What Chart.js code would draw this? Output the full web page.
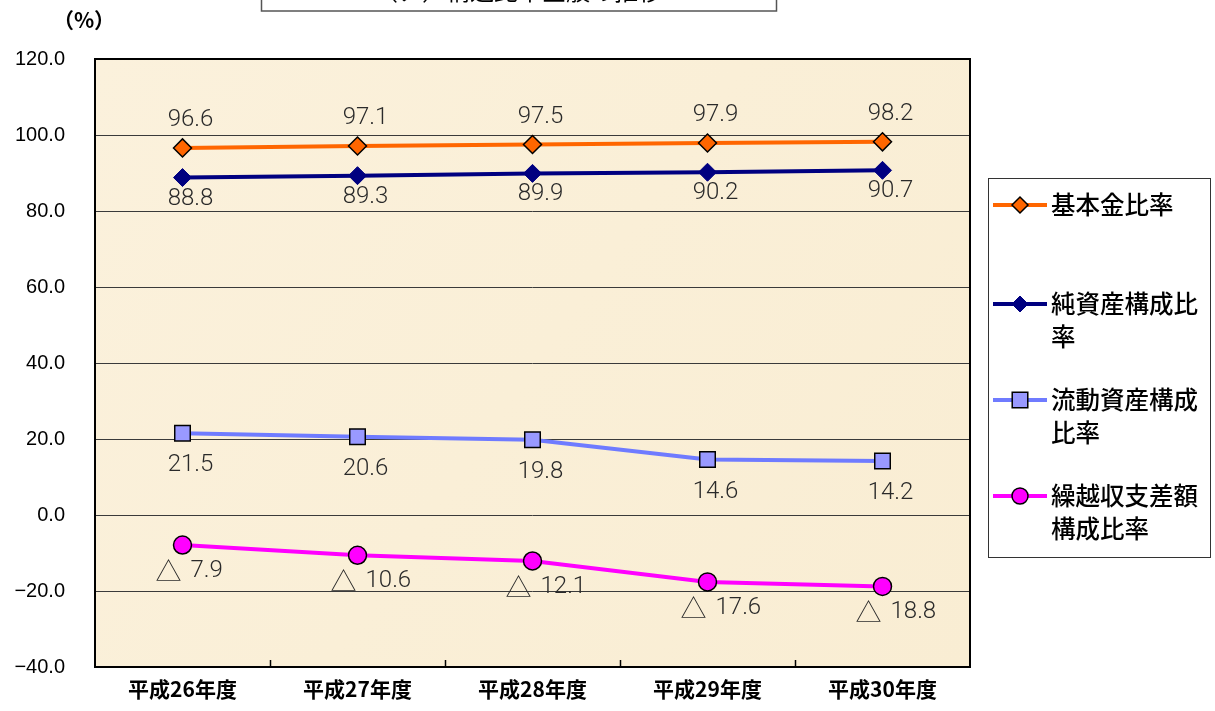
<!DOCTYPE html>
<html><head><meta charset="utf-8">
<script src="https://cdn.jsdelivr.net/npm/chart.js@4.4.1/dist/chart.umd.min.js"></script>
<style>html,body{margin:0;padding:0;background:#fff;}#wrap{width:1215px;height:711px;position:relative;}</style>
</head><body><div id="wrap"><canvas id="c" width="1215" height="711"></canvas></div>
<script>
const categories = ['平成26年度','平成27年度','平成28年度','平成29年度','平成30年度'];
const kihonkin = [96.6, 97.1, 97.5, 97.9, 98.2];
const junshisan = [88.8, 89.3, 89.9, 90.2, 90.7];
const ryudo = [21.5, 20.6, 19.8, 14.6, 14.2];
const kurikoshi = [-7.9, -10.6, -12.1, -17.6, -18.8];
const yTicks = [120, 100, 80, 60, 40, 20, 0, -20, -40];
const seriesNames = [['基本金比率'], ['純資産構成比','率'], ['流動資産構成','比率'], ['繰越収支差額','構成比率']];
const titleText = '（ア）構造比率全般の推移';

const CJK = '"Noto Sans CJK JP", sans-serif';
const NUM = 'Roboto, Lato, "Liberation Sans", sans-serif';

const datasets = [
  {label: seriesNames[0].join(''), data: kihonkin, borderColor:'#FF6600', backgroundColor:'#FF6600', pointStyle:'rectRot', pointRadius:9, pointBorderColor:'#000', pointBorderWidth:1.5, labelPos:'above'},
  {label: seriesNames[1].join(''), data: junshisan, borderColor:'#000080', backgroundColor:'#000080', pointStyle:'rectRot', pointRadius:9, pointBorderColor:'#000080', pointBorderWidth:1, labelPos:'below'},
  {label: seriesNames[2].join(''), data: ryudo, borderColor:'#6F7BFF', backgroundColor:'#9999FF', pointStyle:'rect', pointRadius:11, pointBorderColor:'#000', pointBorderWidth:1.5, labelPos:'below2'},
  {label: seriesNames[3].join(''), data: kurikoshi, borderColor:'#FF00FF', backgroundColor:'#FF00FF', pointStyle:'circle', pointRadius:9, pointBorderColor:'#000', pointBorderWidth:1.5, labelPos:'neg'}
].map(d => Object.assign({borderWidth:4, tension:0, pointHoverRadius:d.pointRadius}, d));

const deco = {
  id:'deco',
  beforeDraw(chart){
    const {ctx, chartArea:a} = chart;
    ctx.save();
    const g = ctx.createLinearGradient(a.left, a.top, a.right, a.bottom);
    g.addColorStop(0, '#FBF1DC'); g.addColorStop(0.5, '#FAEFD7'); g.addColorStop(1, '#F9EDD3');
    ctx.fillStyle = g;
    ctx.fillRect(a.left, a.top, a.right-a.left, a.bottom-a.top);
    ctx.restore();
  },
  afterDraw(chart){
    const {ctx, chartArea:a} = chart;
    const x = chart.scales.x;
    ctx.save();
    ctx.strokeStyle = '#000'; ctx.lineWidth = 2;
    ctx.strokeRect(a.left, a.top, a.right-a.left, a.bottom-a.top);
    ctx.lineWidth = 1.5;
    for (let i=1;i<categories.length;i++){
      const px = Math.round((x.getPixelForValue(i-1)+x.getPixelForValue(i))/2)+0.5;
      ctx.beginPath(); ctx.moveTo(px, a.bottom); ctx.lineTo(px, a.bottom-7); ctx.stroke();
    }
    // unit label
    ctx.fillStyle = '#000'; ctx.font = 'bold 21px ' + CJK;
    ctx.textAlign = 'center'; ctx.textBaseline = 'middle';
    ctx.fillText('（%）', 84, 20);
    // title box (cut at top)
    ctx.fillStyle = '#fff';
    ctx.fillRect(261, -20, 515, 31);
    ctx.strokeStyle = '#555'; ctx.lineWidth = 1.5;
    ctx.strokeRect(261.5, -20, 515, 31);
    ctx.fillStyle = '#000'; ctx.font = '24px ' + CJK;
    ctx.textBaseline = 'alphabetic';
    ctx.fillText(titleText, 518, 0);
    // legend
    const lx = 988, ly = 178, lw = 222, lh = 379;
    ctx.fillStyle = '#fff'; ctx.fillRect(lx, ly, lw, lh);
    ctx.strokeStyle = '#333'; ctx.lineWidth = 1;
    ctx.strokeRect(lx+0.5, ly+0.5, lw, lh);
    const rows = [205, 304, 400, 496];
    datasets.forEach((d, i) => {
      const y = rows[i];
      ctx.strokeStyle = d.borderColor; ctx.lineWidth = 4;
      ctx.beginPath(); ctx.moveTo(993, y); ctx.lineTo(1047, y); ctx.stroke();
      ctx.fillStyle = d.backgroundColor; ctx.strokeStyle = d.pointBorderColor; ctx.lineWidth = d.pointBorderWidth;
      const r = d.pointStyle === 'rect' ? 11 : 8;
      Chart.helpers.drawPoint(ctx, {pointStyle:d.pointStyle, radius:r, borderWidth:d.pointBorderWidth, rotation:0}, 1020, y);
      ctx.fillStyle = '#000'; ctx.font = '500 24.5px ' + CJK;
      ctx.textAlign = 'left'; ctx.textBaseline = 'middle';
      seriesNames[i].forEach((t, k) => ctx.fillText(t, 1051, y + k*33));
    });
    ctx.restore();
  },
  afterDatasetsDraw(chart){
    const {ctx} = chart;
    ctx.save();
    ctx.fillStyle = '#2a2a2a';
    ctx.textBaseline = 'middle';
    const numFont = '300 24px ' + NUM;
    chart.data.datasets.forEach((d, di) => {
      const meta = chart.getDatasetMeta(di);
      meta.data.forEach((p, i) => {
        const v = d.data[i];
        if (d.labelPos === 'neg') {
          const num = Math.abs(v).toFixed(1);
          const y = p.y + 26;
          ctx.font = '300 26px ' + CJK; ctx.textAlign = 'center';
          ctx.fillText('△', p.x - 14, y);
          ctx.font = numFont; ctx.textAlign = 'left';
          ctx.fillText(num, p.x + 8, y);
          return;
        }
        ctx.font = numFont;
        ctx.textAlign = 'center';
        let dy = 0;
        if (d.labelPos === 'above') dy = -28;
        else if (d.labelPos === 'below') dy = 21;
        else dy = 32;
        ctx.fillText(v.toFixed(1), p.x + 8, p.y + dy);
      });
    });
    ctx.restore();
  }
};

new Chart(document.getElementById('c'), {
  type:'line',
  data:{labels:categories, datasets},
  options:{
    responsive:false, animation:false,
    layout:{padding:{left:0, top:59, right:245, bottom:0}},
    plugins:{legend:{display:false}, tooltip:{enabled:false}, title:{display:false}},
    scales:{
      x:{offset:true, grid:{display:false, drawTicks:false}, border:{display:false},
         ticks:{color:'#000', font:{family:CJK, size:21, weight:'bold'}, padding:9},
         afterFit(s){ s.height = 44; }},
      y:{min:-40, max:120, afterBuildTicks(s){ s.ticks = yTicks.map(v=>({value:v})); },
         grid:{color:'#3a3a3a', lineWidth:1, drawTicks:false}, border:{display:false},
         ticks:{color:'#000', font:{family:'"Liberation Sans", Arial, sans-serif', size:20}, padding:30,
                callback:v=>v.toFixed(1).replace('-', '−')},
         afterFit(s){ s.width = 95; }}
    }
  },
  plugins:[deco]
});
</script></body></html>
